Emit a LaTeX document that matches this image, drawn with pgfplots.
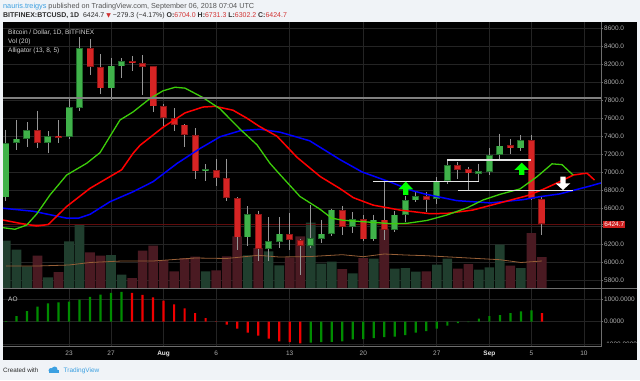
\documentclass[border=0pt]{standalone}
\usepackage{pgfplots}
\pgfplotsset{compat=1.18}
\usepackage{pgfplotstable}
\usepackage{fontspec}
\setmainfont{Liberation Sans}
\newfontfamily\symfont{DejaVu Sans}

\definecolor{bgc}{RGB}{240,243,247}
\definecolor{gridc}{RGB}{36,36,36}
\definecolor{sepc}{RGB}{110,110,110}
\definecolor{labc}{RGB}{175,175,175}
\definecolor{cgreen}{RGB}{64,178,74}
\definecolor{cgreenb}{RGB}{34,110,44}
\definecolor{cred}{RGB}{214,36,36}
\definecolor{credb}{RGB}{140,22,22}
\definecolor{wick}{RGB}{150,150,150}
\definecolor{volg}{RGB}{32,62,46}
\definecolor{volr}{RGB}{74,26,34}
\definecolor{volma}{RGB}{150,95,55}
\definecolor{lips}{RGB}{60,205,10}
\definecolor{aog}{RGB}{0,140,0}
\definecolor{aor}{RGB}{240,0,0}
\definecolor{lastred}{RGB}{205,30,30}
\definecolor{lastline}{RGB}{95,12,12}
\definecolor{tvblue}{RGB}{60,160,225}
\definecolor{hdr}{RGB}{85,85,85}
\definecolor{hdrd}{RGB}{45,45,45}
\definecolor{hdrred}{RGB}{210,50,50}
\definecolor{intext}{RGB}{210,210,210}
\definecolor{arrg}{RGB}{0,255,0}

\pgfplotstableread{
d o h l c
-6 6722 7473 6677 7325
-5 7325 7585 7251 7374
-4 7374 7555 7277 7470
-2 7329 7455 7214 7400
0 7396 7814 7374 7722
1 7714 8500 7685 8381
4 7933 8270 7807 8185
5 8177 8266 8048 8237
13 7011 7092 6900 7033
17 6277 6622 6185 6537
19 6148 6500 6011 6233
20 6225 6500 6159 6318
23 6185 6640 6159 6270
24 6262 6474 6214 6318
25 6314 6596 6289 6585
27 6389 6555 6325 6481
29 6255 6529 6240 6474
31 6363 6574 6337 6529
32 6529 6733 6448 6688
33 6688 6789 6670 6733
35 6707 6944 6651 6907
36 6907 7137 6874 7077
39 6985 7096 6900 7014
40 7007 7270 6974 7192
41 7196 7429 7129 7296
43 7266 7414 7240 7355
}\greenc

\pgfplotstableread{
d o h l c
-3 7470 7685 7273 7329
-1 7407 7577 7329 7385
2 8381 8485 8077 8170
3 8170 8314 7866 7933
6 8233 8290 8122 8211
7 8211 8300 7863 8174
8 8177 8180 7666 7733
9 7737 7759 7492 7603
10 7603 7714 7455 7529
11 7529 7535 7281 7418
12 7414 7492 6929 7011
14 7022 7148 6851 6937
15 6937 7151 6677 6714
16 6714 6720 6133 6277
18 6537 6574 6011 6148
21 6314 6548 6140 6248
22 6251 6260 5863 6185
26 6581 6622 6300 6389
28 6481 6522 6233 6255
30 6474 6900 6251 6363
34 6733 6780 6559 6696
37 7077 7114 6922 7029
38 7033 7055 6800 6988
42 7300 7370 7203 7266
44 7355 7411 6696 6704
45 6704 6731.3 6302.2 6424.7
}\redc

\pgfplotstableread{
d v
-6 47300
-5 38300
-4 21700
-2 10700
0 46700
1 64000
4 33000
5 13300
13 16700
17 32700
19 36700
20 22700
23 65300
24 24300
25 26300
27 14700
29 29300
31 19300
32 20000
33 16300
35 23300
36 29300
39 18300
40 20700
41 43300
43 20000
}\volgt

\pgfplotstableread{
d v
-3 32300
-1 16000
2 35700
3 32300
6 10000
7 37300
8 42300
9 28000
10 16700
11 30000
12 31300
14 17700
15 31700
16 51700
18 40000
21 30700
22 51700
26 19000
28 30000
30 59300
34 16700
37 19300
38 24000
42 22300
44 55000
45 31000
}\volrt

\pgfplotstableread{
d v
-6 22000
-3 22000
0 23000
2 25500
5 27000
8 27000
12 30000
15 29500
18 32700
20 31000
23 31500
26 33300
28 31300
30 34000
32 33000
34 32300
38 30000
41 28300
43 25500
45 27000
}\volmat

\pgfplotstableread{
d p
-6.3 6601
-3.4 6567
-0.2 6490
0.9 6490
2.0 6533
3.9 6673
6.1 6784
8.0 6896
10.3 7100
12.5 7267
14.4 7396
16.3 7462
18.2 7478
20.1 7445
22.9 7350
25.8 7140
27.9 7003
30.8 6881
32.7 6795
34.0 6755
36.9 6685
40.1 6660
43.2 6696
44.8 6729
46.7 6760
49.6 6848
50.5 6878
51.5 6905
}\jaw

\pgfplotstableread{
d p
-6.3 6470
-4.66 6433
-3.07 6403
-1.97 6420
-0.22 6620
2.0 6822
5.01 7028
6.09 7210
6.76 7300
8.94 7500
11.04 7660
12.75 7725
13.9 7733
15.6 7690
16.9 7603
18.1 7511
19.8 7400
21.7 7166
23.9 6953
25.8 6818
27.05 6718
28.95 6635
31.5 6580
34.35 6540
36.0 6544
38.4 6580
40.9 6657
43.6 6740
45.1 6810
46.7 6896
48.0 6970
48.9 6985
49.3 6989
50.0 6914
}\teeth

\pgfplotstableread{
d p
-6.3 6385
-5.14 6367
-4.02 6414
-3.07 6537
-1.81 6748
-0.22 6970
1.68 7100
2.95 7218
4.85 7581
6.09 7670
7.71 7820
8.94 7905
10.09 7945
11.04 7935
12.75 7830
14.37 7705
16.27 7480
17.89 7305
19.12 7100
20.08 6974
21.98 6731
23.88 6590
25.0 6490
26.07 6467
28.35 6448
30.83 6428
32.16 6433
34.06 6465
35.97 6526
37.87 6605
39.39 6692
41.0 6755
42.91 6815
44.53 6951
45.96 7094
46.91 7085
47.96 6970
}\lipst

\pgfplotstableread{
d v
-6 30
-5 251
-4 471
-3 662
-2 809
-1 853
0 883
1 971
2 1089
3 1192
4 1265
5 1309
23 -925
24 -895
25 -885
26 -866
27 -778
28 -763
29 -719
30 -675
31 -660
32 -587
33 -484
34 -411
35 -307
36 -175
37 -58
38 -15
39 132
40 250
41 294
42 383
43 456
44 500
}\aogt

\pgfplotstableread{
d v
6 1265
7 1177
8 1074
9 927
10 765
11 589
12 383
13 163
14 15
15 -131
16 -307
17 -484
18 -616
19 -748
20 -866
21 -895
22 -954
45 383
}\aort

\pgfplotsset{
  paneset/.style={at={(3bp,92bp)}, anchor=south west, scale only axis,
    width=598bp, height=266bp, xmin=-6.28, xmax=50.62},
  tlfont/.style={font=\fontsize{6.5}{7}\selectfont},
}

\begin{document}
\begin{tikzpicture}[x=1bp,y=1bp]
\fill[bgc] (0,0) rectangle (640,380);
\fill[black] (3,20) rectangle (637,358);

% header
\node[anchor=west, inner sep=0, font=\fontsize{7.3}{8}\selectfont, text=hdr] at (3,373)
 {\textcolor{tvblue}{nauris.treigys} published on TradingView.com, September 06, 2018 07:04 UTC};
\node[anchor=west, inner sep=0, font=\fontsize{7}{8}\selectfont, text=hdrd] at (3,364)
 {\textbf{BITFINEX:BTCUSD, 1D}\ \ 6424.7 \textcolor{hdrred}{\symfont\fontsize{6}{7}\selectfont▼} −279.3 (−4.17\%) \textbf{O:}\textcolor{hdrred}{6704.0} \textbf{H:}\textcolor{hdrred}{6731.3} \textbf{L:}\textcolor{hdrred}{6302.2} \textbf{C:}\textcolor{hdrred}{6424.7}};

% grid + price scale
\begin{axis}[paneset, ymin=5714.4, ymax=8670,
  axis line style={draw=none},
  xtick={0,4,9,14,21,28,35,40,44,49}, xticklabels={},
  xtick style={draw=none},
  ytick={5800,6000,6200,6400,6600,6800,7000,7200,7400,7600,7800,8000,8200,8400,8600},
  yticklabels={5800.0,6000.0,6200.0,,6600.0,6800.0,7000.0,7200.0,7400.0,7600.0,7800.0,8000.0,8200.0,8400.0,8600.0},
  ytick pos=right, yticklabel pos=right,
  xmajorgrids, ymajorgrids, major grid style={gridc, line width=0.7bp},
  major tick length=2bp, tick align=outside,
  ytick style={sepc, line width=0.6bp},
  yticklabel style={tlfont, text=labc, inner sep=1bp},
  /pgf/number format/assume math mode=true,
  extra y ticks={6424.7},
  extra y tick labels={6424.7},
  extra y tick style={ymajorgrids=false,
    yticklabel style={fill=lastred, text=white, inner sep=1.2bp}},
]
\end{axis}

% volume
\begin{axis}[paneset, ymin=0, ymax=266000, hide axis]
\addplot[ybar, bar width=9.6bp, bar shift=0pt, fill=volg, draw=none] table[x=d, y=v] {\volgt};
\addplot[ybar, bar width=9.6bp, bar shift=0pt, fill=volr, draw=none] table[x=d, y=v] {\volrt};
\addplot[sharp plot, volma, line width=0.8bp, mark=none] table[x=d, y=v] {\volmat};
\end{axis}

% price
\begin{axis}[paneset, ymin=5714.4, ymax=8670, hide axis]
\addplot[lastline, line width=0.9bp, mark=none] coordinates {(-7,6424.7) (52,6424.7)};
% wicks
\addplot[draw=none, mark=none, error bars/.cd, y dir=minus, y explicit, error mark=none,
  error bar style={draw=wick, line width=0.9bp}]
  table[x=d, y=h, y error expr=\thisrow{h}-\thisrow{l}] {\greenc};
\addplot[draw=none, mark=none, error bars/.cd, y dir=minus, y explicit, error mark=none,
  error bar style={draw=wick, line width=0.9bp}]
  table[x=d, y=h, y error expr=\thisrow{h}-\thisrow{l}] {\redc};
% bodies
\addplot[draw=none, mark=none, error bars/.cd, y dir=plus, y explicit, error mark=none,
  error bar style={draw=cgreenb, line width=7bp}]
  table[x=d, y=o, y error expr=\thisrow{c}-\thisrow{o}] {\greenc};
\addplot[draw=none, mark=none, error bars/.cd, y dir=plus, y explicit, error mark=none,
  error bar style={draw=cgreen, line width=5.2bp, shorten <=0.8bp, shorten >=0.8bp}]
  table[x=d, y=o, y error expr=\thisrow{c}-\thisrow{o}] {\greenc};
\addplot[draw=none, mark=none, error bars/.cd, y dir=plus, y explicit, error mark=none,
  error bar style={draw=credb, line width=7bp}]
  table[x=d, y=c, y error expr=\thisrow{o}-\thisrow{c}] {\redc};
\addplot[draw=none, mark=none, error bars/.cd, y dir=plus, y explicit, error mark=none,
  error bar style={draw=cred, line width=5.2bp, shorten <=0.8bp, shorten >=0.8bp}]
  table[x=d, y=c, y error expr=\thisrow{o}-\thisrow{c}] {\redc};
% alligator
\addplot[blue, line width=1.5bp, mark=none] table[x=d, y=p] {\jaw};
\addplot[red, line width=1.5bp, mark=none] table[x=d, y=p] {\teeth};
\addplot[lips, line width=1.3bp, mark=none] table[x=d, y=p] {\lipst};
% drawings
\addplot[gray, line width=1.4bp, mark=none] coordinates {(-7,7826) (52,7826)};
\addplot[white!90!black, line width=1.3bp, mark=none] coordinates {(28.95,6900) (39.0,6900)};
\addplot[white!90!black, line width=1.3bp, mark=none] coordinates {(36.0,7137) (44.0,7137)};
\addplot[white!90!black, line width=1.3bp, mark=none] coordinates {(37.0,6800) (48.0,6800)};
\addplot[fill=arrg, draw=none] coordinates {(32.04,6896) (32.74,6811) (32.29,6811) (32.29,6748) (31.79,6748) (31.79,6811) (31.34,6811)} --cycle;
\addplot[fill=arrg, draw=none] coordinates {(43.07,7107) (43.77,7026) (43.32,7026) (43.32,6970) (42.82,6970) (42.82,7026) (42.37,7026)} --cycle;
\addplot[fill=white, draw=none] coordinates {(47.0,6803) (47.7,6878) (47.25,6878) (47.25,6951) (46.75,6951) (46.75,6878) (46.3,6878)} --cycle;
\end{axis}

% AO pane
\begin{axis}[at={(3bp,34bp)}, anchor=south west, scale only axis, width=598bp, height=58bp,
  xmin=-6.28, xmax=50.62, ymin=-1070, ymax=1485,
  axis line style={draw=none},
  xtick={0,4,9,14,21,28,35,40,44,49},
  xticklabels={23,27,\textcolor{white!90!black}{\textbf{Aug}},6,13,20,27,\textcolor{white!90!black}{\textbf{Sep}},5,10},
  xtick style={draw=none},
  xticklabel style={tlfont, text=labc, inner sep=1bp, yshift=-1.5bp},
  ytick={-1000,0,1000}, ytick pos=right, yticklabel pos=right,
  xmajorgrids, ymajorgrids, major grid style={gridc, line width=0.7bp},
  major tick length=2bp, tick align=outside,
  ytick style={sepc, line width=0.6bp},
  yticklabel style={tlfont, text=labc, inner sep=1bp,
    /pgf/number format/fixed, /pgf/number format/fixed zerofill,
    /pgf/number format/precision=4, /pgf/number format/1000 sep={}},
  /pgf/number format/assume math mode=true,
]
\addplot[ybar, bar width=2.2bp, bar shift=0pt, fill=aog, draw=none] table[x=d, y=v] {\aogt};
\addplot[ybar, bar width=2.2bp, bar shift=0pt, fill=aor, draw=none] table[x=d, y=v] {\aort};
\end{axis}

% frame lines and masks
\fill[black] (601.5,20) rectangle (637,36.6);
\draw[sepc, line width=0.8bp] (3,92) -- (637,92);
\draw[sepc, line width=0.8bp] (601,358) -- (601,34) -- (3,34);

% pane texts
\node[anchor=west, inner sep=0, font=\fontsize{6.5}{7}\selectfont, text=intext] at (8,347) {Bitcoin / Dollar, 1D, BITFINEX};
\node[anchor=west, inner sep=0, font=\fontsize{6.5}{7}\selectfont, text=intext] at (8,338) {Vol (20)};
\node[anchor=west, inner sep=0, font=\fontsize{6.5}{7}\selectfont, text=intext] at (8,328.7) {Alligator (13, 8, 5)};
\node[anchor=west, inner sep=0, font=\fontsize{6.5}{7}\selectfont, text=intext] at (8,81) {AO};

% footer
\node[anchor=west, inner sep=0, font=\fontsize{6.3}{7}\selectfont, text=hdrd] at (3,9.3) {Created with};
\fill[tvblue] (51,9.6) circle (2.4);
\fill[tvblue] (54.6,10.6) circle (2.9);
\fill[tvblue] (48.6,7.3) rectangle (58.6,9.6);
\node[anchor=west, inner sep=0, font=\fontsize{6.5}{7}\selectfont, text=tvblue] at (63.5,9.3) {TradingView};
\end{tikzpicture}
\end{document}
